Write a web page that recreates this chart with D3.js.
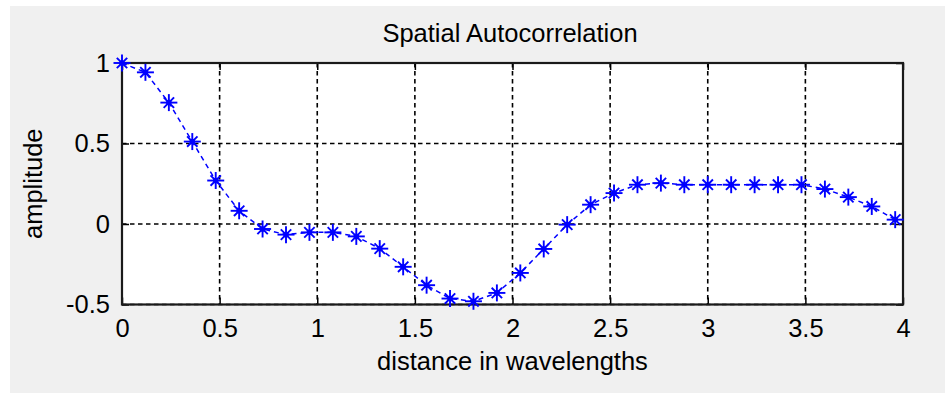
<!DOCTYPE html>
<html>
<head>
<meta charset="utf-8">
<script src="https://cdn.jsdelivr.net/npm/d3@7"></script>
<style>
  html, body { margin: 0; padding: 0; background: #ffffff; }
  svg { display: block; }
  text { font-family: "Liberation Sans", Arial, sans-serif; fill: #000; }
</style>
</head>
<body>
<svg id="chart" width="945" height="393"></svg>
<script>
// ---- data ----
const title = "Spatial Autocorrelation";
const xLabel = "distance in wavelengths";
const yLabel = "amplitude";
const xTicks = [0, 0.5, 1, 1.5, 2, 2.5, 3, 3.5, 4];
const xTickLabels = ["0", "0.5", "1", "1.5", "2", "2.5", "3", "3.5", "4"];
const yTicks = [-0.5, 0, 0.5, 1];
const yTickLabels = ["-0.5", "0", "0.5", "1"];
const distance = [0, 0.12, 0.24, 0.36, 0.48, 0.60, 0.72, 0.84, 0.96, 1.08, 1.20, 1.32,
  1.44, 1.56, 1.68, 1.80, 1.92, 2.04, 2.16, 2.28, 2.40, 2.52, 2.64, 2.76, 2.88, 3.00,
  3.12, 3.24, 3.36, 3.48, 3.60, 3.72, 3.84, 3.96];
const amplitude = [1.0, 0.942, 0.754, 0.512, 0.270, 0.082, -0.031, -0.066, -0.052, -0.052, -0.077, -0.153,
  -0.266, -0.380, -0.463, -0.480, -0.428, -0.304, -0.155, -0.004, 0.120, 0.192, 0.244, 0.254, 0.244, 0.244,
  0.244, 0.244, 0.244, 0.244, 0.217, 0.167, 0.109, 0.027];

// ---- layout ----
const W = 945, H = 393;
const plot = { left: 122, right: 903, top: 63, bottom: 304.5 };
const svg = d3.select("#chart");

// background
svg.append("rect").attr("x", 0).attr("y", 0).attr("width", W).attr("height", H).attr("fill", "#ffffff");
svg.append("rect").attr("x", 10).attr("y", 6).attr("width", W - 10).attr("height", H - 6).attr("fill", "#f0f0f0");

const x = d3.scaleLinear().domain([0, 4]).range([plot.left, plot.right]);
const y = d3.scaleLinear().domain([-0.5, 1]).range([plot.bottom, plot.top]);

// plot area
svg.append("rect").attr("x", plot.left).attr("y", plot.top)
  .attr("width", plot.right - plot.left).attr("height", plot.bottom - plot.top)
  .attr("fill", "#ffffff");

// grid
const grid = svg.append("g").attr("stroke", "#000").attr("stroke-width", 1.6)
  .attr("stroke-dasharray", "4.5,3.5");
grid.selectAll("line.gx").data(xTicks).join("line")
  .attr("x1", d => x(d)).attr("x2", d => x(d))
  .attr("y1", plot.top).attr("y2", plot.bottom);
grid.selectAll("line.gy").data(yTicks).join("line")
  .attr("x1", plot.left).attr("x2", plot.right)
  .attr("y1", d => y(d)).attr("y2", d => y(d));

// axes with inward ticks
const tickLen = 7;
const xFmt = d => xTickLabels[xTicks.indexOf(d)];
const yFmt = d => yTickLabels[yTicks.indexOf(d)];
const xAxisB = d3.axisBottom(x).tickValues(xTicks).tickSizeInner(-tickLen).tickSizeOuter(0).tickPadding(14)
  .tickFormat(xFmt);
const xAxisT = d3.axisTop(x).tickValues(xTicks).tickSizeInner(-tickLen).tickSizeOuter(0).tickFormat("");
const yAxisL = d3.axisLeft(y).tickValues(yTicks).tickSizeInner(-tickLen).tickSizeOuter(0).tickPadding(12)
  .tickFormat(yFmt);
const yAxisR = d3.axisRight(y).tickValues(yTicks).tickSizeInner(-tickLen).tickSizeOuter(0).tickFormat("");

function styleAxis(g) {
  g.select(".domain").remove();
  g.selectAll(".tick line").attr("stroke", "#000").attr("stroke-width", 1.5);
  g.selectAll(".tick text").attr("fill", "#000")
    .style("font-family", "'Liberation Sans', Arial, sans-serif").style("font-size", "25.5px");
}
svg.append("g").attr("transform", `translate(0,${plot.bottom})`).call(xAxisB).call(styleAxis);
svg.append("g").attr("transform", `translate(0,${plot.top})`).call(xAxisT).call(styleAxis);
svg.append("g").attr("transform", `translate(${plot.left},0)`).call(yAxisL).call(styleAxis);
svg.append("g").attr("transform", `translate(${plot.right},0)`).call(yAxisR).call(styleAxis);

// frame
svg.append("rect").attr("x", plot.left).attr("y", plot.top)
  .attr("width", plot.right - plot.left).attr("height", plot.bottom - plot.top)
  .attr("fill", "none").attr("stroke", "#1a1a1a").attr("stroke-width", 2.2);

// data line
const pts = distance.map((d, i) => [d, amplitude[i]]);
const line = d3.line().x(d => x(d[0])).y(d => y(d[1]));
svg.append("path").datum(pts).attr("d", line)
  .attr("fill", "none").attr("stroke", "#0000ff").attr("stroke-width", 1.5)
  .attr("stroke-dasharray", "5,4");

// asterisk markers
const r = 8.5;
const star = svg.append("g").attr("stroke", "#0000ff").attr("stroke-width", 1.9).attr("fill", "none");
const mk = star.selectAll("g").data(pts).join("g")
  .attr("transform", d => `translate(${x(d[0])},${y(d[1])})`);
mk.append("line").attr("x1", -r).attr("x2", r).attr("y1", 0).attr("y2", 0);
mk.append("line").attr("x1", 0).attr("x2", 0).attr("y1", -r).attr("y2", r);
const k = 5.2;
mk.append("line").attr("x1", -k).attr("x2", k).attr("y1", -k).attr("y2", k);
mk.append("line").attr("x1", -k).attr("x2", k).attr("y1", k).attr("y2", -k);
mk.append("circle").attr("r", 2.8).attr("fill", "#0000ff").attr("stroke", "none");

// labels
svg.append("text").attr("x", 510).attr("y", 42).attr("text-anchor", "middle")
  .style("font-size", "25.5px").text(title);
svg.append("text").attr("x", (plot.left + plot.right) / 2).attr("y", 370).attr("text-anchor", "middle")
  .style("font-size", "25.5px").text(xLabel);
svg.append("text").attr("transform", `translate(42,${(plot.top + plot.bottom) / 2}) rotate(-90)`)
  .attr("text-anchor", "middle").style("font-size", "25.5px").text(yLabel);
</script>
</body>
</html>
